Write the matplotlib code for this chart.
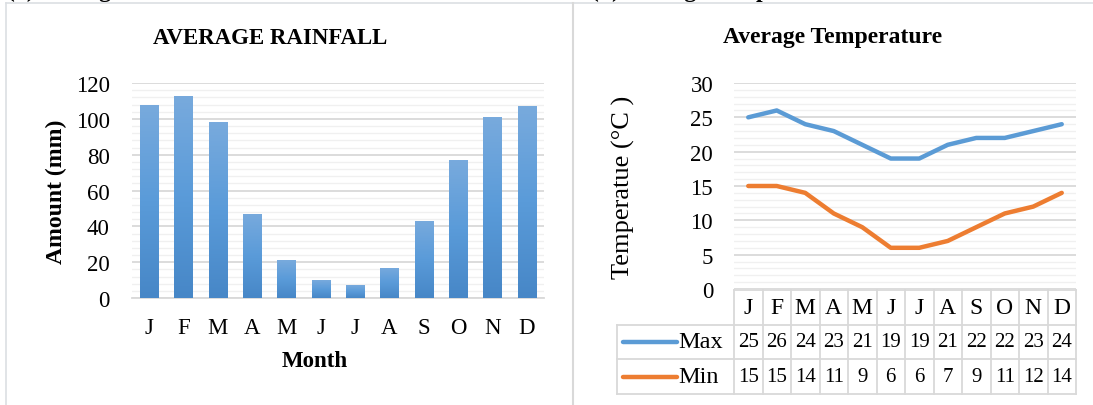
import numpy as np
import matplotlib
matplotlib.use("Agg")
import matplotlib.pyplot as plt
from matplotlib.colors import LinearSegmentedColormap
from matplotlib.lines import Line2D

plt.rcParams["font.family"] = ["Liberation Serif", "DejaVu Serif"]

months = ["J", "F", "M", "A", "M", "J", "J", "A", "S", "O", "N", "D"]
rainfall = [108, 113, 98, 47, 21, 10, 7, 17, 43, 77, 101, 107]
temp_max = [25, 26, 24, 23, 21, 19, 19, 21, 22, 22, 23, 24]
temp_min = [15, 15, 14, 11, 9, 6, 6, 7, 9, 11, 12, 14]

W, H = 1093, 406
fig = plt.figure(figsize=(W / 100, H / 100), dpi=100)

def px_axes(x0, y0, x1, y1):
    # pixel box (top-left origin) -> figure axes
    return fig.add_axes([x0 / W, 1 - y1 / H, (x1 - x0) / W, (y1 - y0) / H])

GRID = "#d9d9d9"
MINOR = "#f0f0f0"
BLUE = "#5b9bd5"
ORANGE = "#ed7d31"

# panel frames + captions sitting above the top edge
fig.add_artist(Line2D([6 / W, 1], [1 - 3.5 / H] * 2, color="#dcdfe3", lw=1.2))
fig.add_artist(Line2D([6 / W] * 2, [0, 1 - 3.5 / H], color="#dcdfe3", lw=1.2))
fig.add_artist(Line2D([573 / W] * 2, [0, 1 - 3.5 / H], color=GRID, lw=1.5))
fig.text(7 / W, 1 + 3 / H, "(a) Average Rainfall", fontsize=17, fontweight="bold", va="baseline")
fig.text(591 / W, 1 + 3 / H, "(b) Average Temperature", fontsize=17, fontweight="bold", va="baseline")

# ---- rainfall bars ----
ax = px_axes(132, 84, 544, 299)
x = np.arange(len(months))
bars = ax.bar(x, rainfall, width=0.53, color="none", zorder=3)
grad = LinearSegmentedColormap.from_list("g", ["#4787c7", "#5a9bd9", "#78aadd"])
ramp = np.linspace(0, 1, 100).reshape(-1, 1)
for b in bars:
    im = ax.imshow(ramp, cmap=grad, origin="lower", aspect="auto", zorder=3,
                   extent=(b.get_x(), b.get_x() + b.get_width(), 0, b.get_height()))
    im.set_clip_path(b)
ax.set_xlim(-0.5, 11.5)
ax.set_ylim(0, 120)
ax.set_yticks(range(0, 121, 20))
ax.set_yticks(range(0, 121, 4), minor=True)
ax.grid(axis="y", which="major", color=GRID, lw=1.3, zorder=0)
ax.grid(axis="y", which="minor", color=MINOR, lw=1.0, zorder=0)
ax.set_xticks(x)
ax.set_xticklabels(months)
for s in ["top", "right", "left"]:
    ax.spines[s].set_visible(False)
ax.spines["bottom"].set_color(GRID)
ax.spines["bottom"].set_linewidth(1.3)
ax.tick_params(length=0, labelsize=16.5, which="both")
ax.tick_params(axis="y", pad=16)
ax.tick_params(axis="x", pad=14)
ax.set_ylabel("Amount (mm)", fontsize=17, fontweight="bold")
ax.yaxis.set_label_coords(-76 / 412, 0.5)
ax.yaxis.label.set_va("center")
ax.set_xlabel("Month", fontsize=16.5, fontweight="bold")
ax.xaxis.set_label_coords((315 - 132) / 412, -(362 - 299) / 215)
ax.xaxis.label.set_va("center")
fig.text(270 / W, 1 - 38 / H, "AVERAGE RAINFALL", fontsize=16.5, fontweight="bold",
         ha="center", va="center")

# ---- temperature lines ----
ax2 = px_axes(734, 84, 1076, 290)
ax2.plot(x, temp_max, color=BLUE, lw=3.2, solid_capstyle="round", solid_joinstyle="round", zorder=3)
ax2.plot(x, temp_min, color=ORANGE, lw=3.2, solid_capstyle="round", solid_joinstyle="round", zorder=3)
ax2.set_xlim(-0.5, 11.5)
ax2.set_ylim(0, 30)
ax2.set_yticks(range(0, 31, 5))
ax2.set_yticks(range(0, 31, 1), minor=True)
ax2.grid(axis="y", which="major", color=GRID, lw=1.3, zorder=0)
ax2.grid(axis="y", which="minor", color=MINOR, lw=1.0, zorder=0)
ax2.set_xticks([])
for s in ax2.spines.values():
    s.set_visible(False)
ax2.tick_params(length=0, labelsize=16.5, which="both")
ax2.tick_params(axis="y", pad=15)
ax2.set_ylabel("Temperatue (°C )", fontsize=19)
ax2.yaxis.set_label_coords(-(734 - 623) / 342, 0.5)
ax2.yaxis.label.set_va("center")
fig.text(833 / W, 1 - 38 / H, "Average Temperature", fontsize=17, fontweight="bold",
         ha="center", va="center")

# ---- data table under the line chart ----
tax = px_axes(734, 291, 1076, 395)
tax.set_xlim(-0.5, 11.5)
tax.set_ylim(0, 3)
tax.axis("off")
xl = -0.5 - (734 - 617) / 28.5
kw = dict(color=GRID, lw=1.3, clip_on=False)
tax.plot([-0.5, 11.5], [3, 3], **kw)
for yy in [0, 1, 2]:
    tax.plot([xl, 11.5], [yy, yy], **kw)
for xx in np.arange(-0.5, 12, 1):
    tax.plot([xx, xx], [0, 3], **kw)
tax.plot([xl, xl], [0, 2], **kw)
for i, m in enumerate(months):
    tax.text(i, 2.5, m, fontsize=17, ha="center", va="center")
rows = [("Max", temp_max, BLUE, 1.5), ("Min", temp_min, ORANGE, 0.5)]
for name, vals, col, yy in rows:
    tax.plot([xl + 0.2, -2.5], [yy, yy], color=col, lw=3.2, solid_capstyle="round", clip_on=False)
    tax.text(-2.45, yy, name, fontsize=17.5, ha="left", va="center")
    for i, v in enumerate(vals):
        tax.text(i, yy, str(v), fontsize=15, ha="center", va="center")

fig.savefig("out.png", dpi=100)
